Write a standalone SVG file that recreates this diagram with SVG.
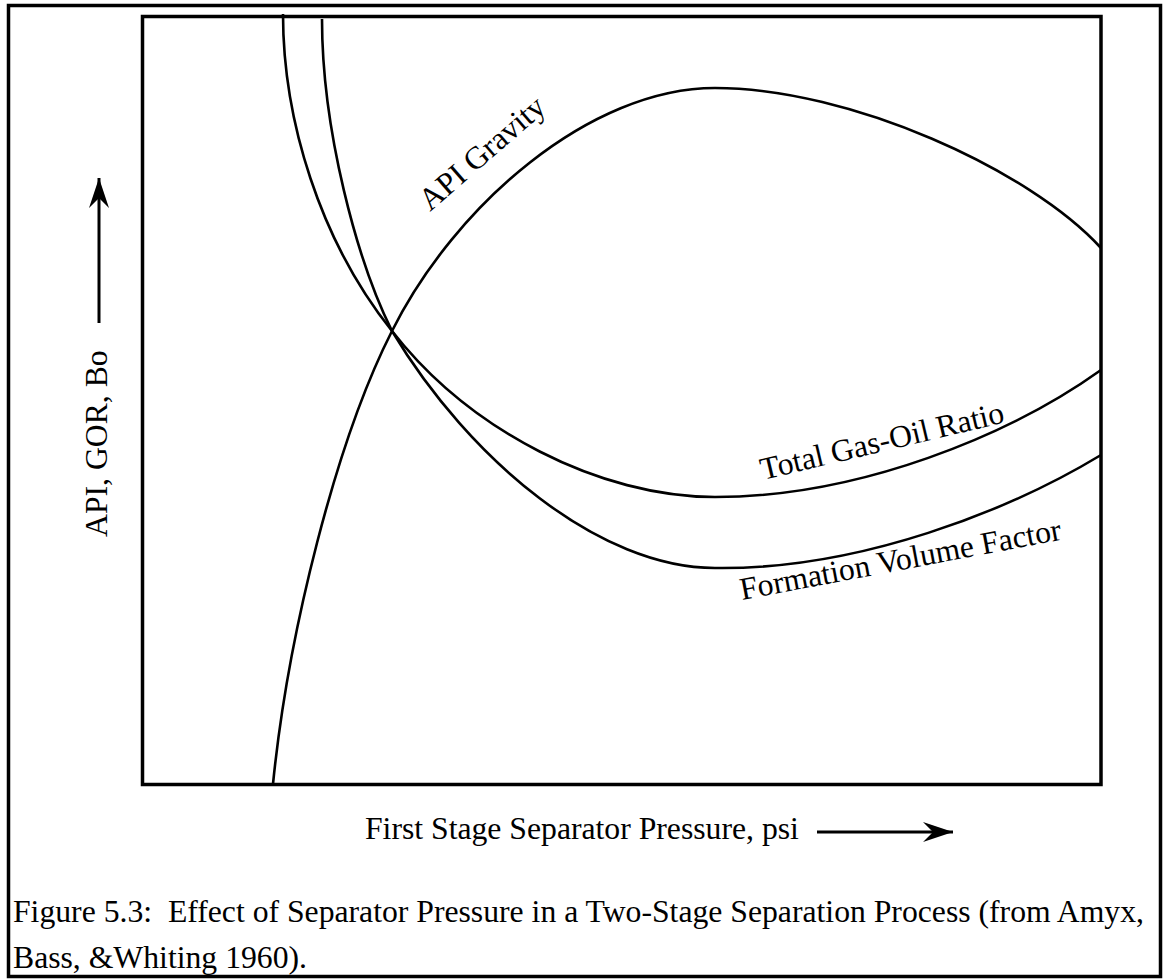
<svg xmlns="http://www.w3.org/2000/svg" width="1164" height="979" viewBox="0 0 1164 979">
<style>
.t{font-family:"Liberation Serif","Times New Roman",serif;font-size:31.7px;fill:#000;white-space:pre}
.frame{fill:none;stroke:#000;stroke-width:3.5}
.curve{fill:none;stroke:#000;stroke-width:2.6}
.ax{fill:none;stroke:#000;stroke-width:3}
</style>
<defs>
<marker id="ah" markerUnits="userSpaceOnUse" markerWidth="32" markerHeight="24" refX="30" refY="11" orient="auto" viewBox="0 0 32 22">
<path d="M0,1 L30,11 L0,21 L10,11 Z" fill="#000"/>
</marker>
</defs>
<rect id="outer" class="frame" x="8.5" y="5.5" width="1152" height="971"/>
<rect id="plot" class="frame" x="142.5" y="16.5" width="958.5" height="768"/>
<g id="connectors">
<path id="api" class="curve" d="M273,784 C288,634 336,441 392,331 C455,205 590,88 715,88 C850,88 1030,170 1101,248"/>
<path id="gor" class="curve" d="M283,14 C283,120 320,241 392,331 C470,431 600,497 715,497 C860,497 1010,435 1101,370"/>
<path id="fvf" class="curve" d="M322,19 C322,130 357,261 392,331 C470,461 600,568 715,568 C860,570 1010,510 1101,455"/>
<line id="yarrow" class="ax" x1="99" y1="323" x2="99" y2="178" marker-end="url(#ah)"/>
<line id="xarrow" class="ax" x1="817" y1="832" x2="953" y2="832" marker-end="url(#ah)"/>
</g>
<g id="label-api"><text class="t" transform="translate(430,212) rotate(-41)">API Gravity</text></g>
<g id="label-gor"><text class="t" transform="translate(763,480) rotate(-13.4)">Total Gas-Oil Ratio</text></g>
<g id="label-fvf"><text class="t" transform="translate(742,600) rotate(-10.7)">Formation Volume Factor</text></g>
<g id="ylabel"><text class="t" transform="translate(107,537) rotate(-90)">API, GOR, Bo</text></g>
<g id="xlabel"><text class="t" x="365" y="839">First Stage Separator Pressure, psi</text></g>
<g id="caption">
<text class="t" x="13" y="922">Figure 5.3:  Effect of Separator Pressure in a Two-Stage Separation Process (from Amyx,</text>
<text class="t" x="13" y="968">Bass, &amp;Whiting 1960).</text>
</g>
</svg>
